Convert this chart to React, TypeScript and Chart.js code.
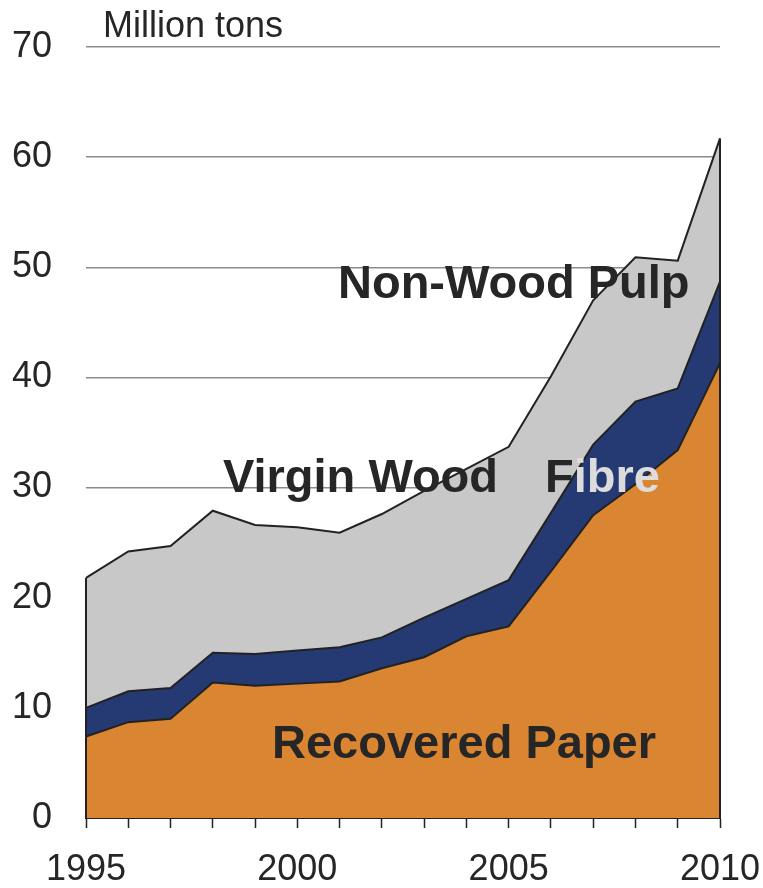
import React, { useEffect, useRef } from "react";
import { Chart, registerables } from "chart.js";

Chart.register(...registerables);

const years = ["1995","1996","1997","1998","1999","2000","2001","2002","2003","2004","2005","2006","2007","2008","2009","2010"];
const shownYears = ["1995", "2000", "2005", "2010"];
const recoveredPaper = [7.4, 8.7, 9.0, 12.3, 12.0, 12.2, 12.4, 13.6, 14.6, 16.5, 17.4, 22.4, 27.5, 30.3, 33.4, 41.3];
const virginWoodFibre = [2.6, 2.8, 2.8, 2.7, 2.9, 3.0, 3.1, 2.8, 3.6, 3.4, 4.2, 5.3, 6.4, 7.5, 5.6, 7.4];
const nonWoodPulp = [11.8, 12.7, 12.9, 12.9, 11.7, 11.2, 10.4, 11.2, 11.5, 11.8, 12.1, 12.4, 13.1, 13.1, 11.6, 13.0];
const yMin = 0;
const yMax = 70;
const yStep = 10;
const unitLabel = "Million tons";

const FONT = '"Liberation Sans", Arial, sans-serif';
const DARK = "#262626";
const LINE = "#222222";

const edgesPlugin = {
  id: "edges",
  afterDatasetsDraw(chart: any) {
    const { ctx, scales } = chart;
    const x = scales.x;
    const y = scales.y;
    const last = years.length - 1;
    const total = (i: number) => recoveredPaper[i] + virginWoodFibre[i] + nonWoodPulp[i];
    ctx.save();
    ctx.strokeStyle = LINE;
    ctx.lineWidth = 2;
    [0, last].forEach((i) => {
      const px = x.getPixelForValue(i);
      ctx.beginPath();
      ctx.moveTo(px, y.getPixelForValue(total(i)));
      ctx.lineTo(px, y.getPixelForValue(0));
      ctx.stroke();
    });
    ctx.restore();
  },
};

const textPlugin = {
  id: "texts",
  afterDraw(chart: any) {
    const { ctx } = chart;
    ctx.save();
    ctx.textBaseline = "alphabetic";
    ctx.textAlign = "left";
    ctx.fillStyle = DARK;
    ctx.font = `36px ${FONT}`;
    ctx.fillText(unitLabel, 103, 37);
    ctx.font = `bold 47px ${FONT}`;
    ctx.fillText("Non-Wood Pulp", 338, 298);
    ctx.fillText("Virgin Wood", 223, 492);
    ctx.fillText("F", 545, 492);
    const fw = ctx.measureText("F").width;
    ctx.fillStyle = "#dcdcdc";
    ctx.fillText("ibre", 545 + fw, 492);
    ctx.fillStyle = DARK;
    ctx.fillText("Recovered Paper", 272, 758);
    ctx.restore();
  },
};

export default function App() {
  const ref = useRef<HTMLCanvasElement | null>(null);

  useEffect(() => {
    if (!ref.current) return;
    const common = {
      tension: 0,
      pointRadius: 0,
      pointHoverRadius: 0,
      borderColor: LINE,
      borderWidth: 2,
    };
    const chart = new Chart(ref.current, {
      type: "line",
      data: {
        labels: years,
        datasets: [
          { ...common, label: "Recovered Paper", data: recoveredPaper, backgroundColor: "#d98532", fill: "origin" },
          { ...common, label: "Virgin Wood Fibre", data: virginWoodFibre, backgroundColor: "#253a73", fill: "-1" },
          { ...common, label: "Non-Wood Pulp", data: nonWoodPulp, backgroundColor: "#c8c8c8", fill: "-1" },
        ],
      },
      options: {
        animation: false,
        responsive: true,
        maintainAspectRatio: false,
        layout: { padding: { top: 47, right: 43, left: 0, bottom: 0 } },
        plugins: {
          legend: { display: false },
          tooltip: { enabled: false },
        },
        scales: {
          x: {
            type: "category",
            offset: false,
            grid: {
              offset: false,
              drawOnChartArea: false,
              drawTicks: true,
              tickLength: 10,
              tickColor: LINE,
              tickWidth: 1.5,
            },
            border: { display: true, color: LINE, width: 2 },
            ticks: {
              autoSkip: false,
              maxRotation: 0,
              minRotation: 0,
              padding: 20,
              color: DARK,
              font: { family: FONT, size: 36 },
              callback: function (this: any, value: any) {
                const lab = this.getLabelForValue(value);
                return shownYears.includes(lab) ? lab : "";
              },
            },
            afterFit(scale: any) {
              scale.height = 70;
              scale.paddingLeft = 0;
              scale.paddingRight = 0;
            },
          },
          y: {
            stacked: true,
            min: yMin,
            max: yMax,
            grid: {
              color: "#8c8c8c",
              lineWidth: 1.5,
              drawTicks: false,
            },
            border: { display: false },
            ticks: {
              stepSize: yStep,
              padding: 34,
              color: DARK,
              font: { family: FONT, size: 36 },
            },
            afterFit(scale: any) {
              scale.width = 86;
              scale.paddingTop = 0;
              scale.paddingBottom = 0;
            },
          },
        },
      },
      plugins: [edgesPlugin, textPlugin],
    } as any);
    return () => chart.destroy();
  }, []);

  return (
    <div style={{ position: "fixed", left: 0, top: 0, width: 763, height: 888, background: "#fff" }}>
      <canvas ref={ref} />
    </div>
  );
}
